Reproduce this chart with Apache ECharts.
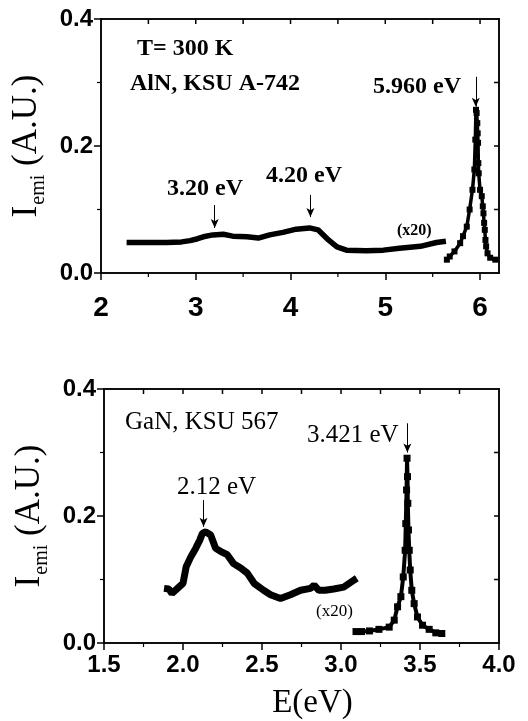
<!DOCTYPE html>
<html><head><meta charset="utf-8">
<script src="https://cdn.jsdelivr.net/npm/echarts@6/dist/echarts.min.js"></script>
<style>html,body{margin:0;padding:0;background:#fff}#c{width:528px;height:721px}</style>
</head><body><div id="c"></div>
<script>
// ---------- data ----------
const alnBroadE = [2.27, 2.45, 2.69, 2.85, 2.94, 3.02, 3.08, 3.18, 3.29, 3.39, 3.54, 3.66, 3.78, 3.92, 4.06, 4.20, 4.29, 4.40, 4.49, 4.59, 4.80, 4.98, 5.15, 5.37, 5.54, 5.64];
const alnBroadI = [0.048, 0.048, 0.048, 0.049, 0.051, 0.054, 0.057, 0.060, 0.061, 0.058, 0.057, 0.055, 0.060, 0.064, 0.069, 0.071, 0.068, 0.052, 0.041, 0.036, 0.035, 0.036, 0.039, 0.042, 0.048, 0.050];
const alnPeakE = [5.65, 5.68, 5.73, 5.79, 5.82, 5.86, 5.89, 5.92, 5.94, 5.95, 5.957, 5.964, 5.971, 5.975, 5.979, 5.982, 5.986, 6.000, 6.018, 6.029, 6.036, 6.043, 6.050, 6.057, 6.064, 6.079, 6.107, 6.161];
const alnPeakI = [0.021, 0.026, 0.034, 0.047, 0.058, 0.073, 0.100, 0.131, 0.163, 0.210, 0.257, 0.252, 0.236, 0.220, 0.205, 0.173, 0.157, 0.131, 0.121, 0.105, 0.094, 0.079, 0.068, 0.052, 0.042, 0.031, 0.024, 0.021];
const ganBroadE = [1.88, 1.91, 1.93, 1.965, 2.00, 2.02, 2.05, 2.08, 2.106, 2.123, 2.144, 2.175, 2.207, 2.24, 2.28, 2.32, 2.365, 2.407, 2.45, 2.51, 2.554, 2.617, 2.68, 2.744, 2.807, 2.83, 2.86, 2.90, 2.954, 3.017, 3.07, 3.10];
const ganBroadI = [0.086, 0.085, 0.078, 0.086, 0.094, 0.120, 0.136, 0.149, 0.162, 0.173, 0.175, 0.170, 0.149, 0.144, 0.139, 0.125, 0.118, 0.110, 0.094, 0.083, 0.076, 0.070, 0.076, 0.083, 0.086, 0.091, 0.083, 0.083, 0.085, 0.088, 0.097, 0.102];
const ganPeakE = [3.095, 3.13, 3.18, 3.24, 3.305, 3.337, 3.358, 3.379, 3.394, 3.406, 3.41, 3.415, 3.418, 3.421, 3.423, 3.427, 3.432, 3.438, 3.448, 3.463, 3.484, 3.516, 3.558, 3.60, 3.638];
const ganPeakI = [0.018, 0.018, 0.019, 0.0215, 0.025, 0.036, 0.057, 0.073, 0.104, 0.146, 0.188, 0.241, 0.291, 0.262, 0.220, 0.178, 0.146, 0.115, 0.083, 0.062, 0.041, 0.028, 0.0215, 0.016, 0.015];

// tick labels / tick positions
const topXTicks = [2, 3, 4, 5, 6];
const botXTicks = [1.5, 2.0, 2.5, 3.0, 3.5, 4.0];
const yTicks = [0.0, 0.2, 0.4];
const topXMinor = [2.5, 3.5, 4.5, 5.5];
const botXMinor = [1.75, 2.25, 2.75, 3.25, 3.75];
const yMinor = [0.1, 0.3];
const topXMirror = [2.5, 3, 3.5, 4, 4.5, 5, 5.5, 6];
const botXMirror = [1.75, 2.0, 2.25, 2.5, 2.75, 3.0, 3.25, 3.5, 3.75];
const yMirror = [0.1, 0.2, 0.3];

// annotation arrows: [x, yFrom, yTo]
const alnArrows = [[3.20, 0.107, 0.071], [4.21, 0.123, 0.088], [5.955, 0.309, 0.262]];
const ganArrows = [[2.13, 0.225, 0.183], [3.42, 0.346, 0.300]];

// ---------- helpers ----------
const serif = '"Liberation Serif","Times New Roman",serif';
const sans = '"Liberation Sans",Arial,sans-serif';
const K = '#000';
const pair = (xs, ys) => xs.map((x, i) => [x, ys[i]]);
const lineOpt = () => ({ show: true, onZero: false, lineStyle: { color: K, width: 1.5 } });
const GRIDS = [
  { left: 101, top: 19, width: 398, height: 254, xr: [2, 6.2] },
  { left: 104, top: 389, width: 395, height: 254, xr: [1.5, 4.0] }
];

function xAxis(grid, min, max, interval, ticks, fs, margin, fmt, name) {
  return { gridIndex: grid, type: 'value', min, max, interval, position: 'bottom',
    axisLine: lineOpt(), splitLine: { show: false },
    axisTick: { show: true, inside: false, length: 7, customValues: ticks.slice(), lineStyle: { color: K, width: 1.5 } },
    axisLabel: { show: true, customValues: ticks.slice(), margin, color: K, fontFamily: sans, fontWeight: 'bold', fontSize: fs, formatter: fmt },
    name: name || '', nameLocation: 'middle', nameGap: 44,
    nameTextStyle: { fontFamily: serif, fontSize: 33, color: K, padding: [0, 0, 0, 22] } };
}
function yAxis(grid, gap) {
  return { gridIndex: grid, type: 'value', min: 0, max: 0.4, interval: 0.2, position: 'left',
    axisLine: lineOpt(), splitLine: { show: false },
    axisTick: { show: true, inside: false, length: 7, lineStyle: { color: K, width: 1.5 } },
    axisLabel: { show: true, margin: 8, color: K, fontFamily: sans, fontWeight: 'bold', fontSize: 24, formatter: v => v.toFixed(1) },
    name: '{m|I}{s|emi}{m| (A.U.)}', nameLocation: 'middle', nameRotate: 90, nameGap: gap,
    nameTextStyle: { color: K, rich: {
      m: { fontFamily: serif, fontSize: 35, color: K },
      s: { fontFamily: serif, fontSize: 20, color: K, verticalAlign: 'top', padding: [24, 0, 0, 1] } } } };
}
function arrows(list) {
  return {
    silent: true, symbol: ['none', 'arrow'], symbolSize: [6, 9],
    label: { show: false }, lineStyle: { color: K, width: 1, type: 'solid' },
    data: list.map(a => [{ coord: [a[0], a[1]] }, { coord: [a[0], a[2]] }])
  };
}
function txt(x, y, s, fs, bold) {
  return { type: 'text', x, y, silent: true, z: 100,
    style: { text: s, fill: K, font: (bold ? 'bold ' : '') + fs + 'px ' + serif, textAlign: 'left', textVerticalAlign: 'middle' } };
}
// thin filled box positioned like the text elements (element-level x / y)
function box(x, y, w, h) {
  return { type: 'rect', silent: true, z: 100, x, y, shape: { x: 0, y: 0, width: w, height: h }, style: { fill: K, stroke: K, lineWidth: 0 } };
}

const chart = echarts.init(document.getElementById('c'));
chart.setOption({
  animation: false,
  grid: GRIDS.map(g => ({ left: g.left, top: g.top, width: g.width, height: g.height, show: true, borderColor: K, borderWidth: 1.5 })),
  xAxis: [
    xAxis(0, 2, 6.2, 1, topXTicks, 28, 21, v => String(v)),
    xAxis(1, 1.5, 4.0, 0.5, botXTicks, 24, 10, v => v.toFixed(1), 'E(eV)')
  ],
  yAxis: [yAxis(0, 52), yAxis(1, 50)],
  series: [
    { type: 'line', xAxisIndex: 0, yAxisIndex: 0, data: pair(alnBroadE, alnBroadI), symbol: 'none',
      lineStyle: { color: K, width: 5.5 }, itemStyle: { color: K }, markLine: arrows(alnArrows) },
    { type: 'line', xAxisIndex: 0, yAxisIndex: 0, data: pair(alnPeakE, alnPeakI), symbol: 'rect', symbolSize: 6, showAllSymbol: true,
      lineStyle: { color: K, width: 3.5 }, itemStyle: { color: K } },
    { type: 'line', xAxisIndex: 1, yAxisIndex: 1, data: pair(ganBroadE, ganBroadI), symbol: 'none',
      lineStyle: { color: K, width: 7 }, itemStyle: { color: K }, markLine: arrows(ganArrows) },
    { type: 'line', xAxisIndex: 1, yAxisIndex: 1, data: pair(ganPeakE, ganPeakI), symbol: 'rect', symbolSize: 7, showAllSymbol: true,
      lineStyle: { color: K, width: 4 }, itemStyle: { color: K } }
  ]
});

// frame (top/right mirror axes) and minor ticks, positioned through the chart's own scales
const els = [];
function frame(gi, si, yr, topT, rightT, botMinor, leftMinor) {
  const g = GRIDS[gi];
  const toPx = (x, y) => {
    let p = null;
    try { p = chart.convertToPixel({ seriesIndex: si }, [x, y]); } catch (e) { p = null; }
    if (!p || !isFinite(p[0]) || !isFinite(p[1])) {
      p = [g.left + (x - g.xr[0]) / (g.xr[1] - g.xr[0]) * g.width, g.top + (1 - (y - yr[0]) / (yr[1] - yr[0])) * g.height];
    }
    return p;
  };
  const p0 = toPx(g.xr[0], yr[0]), p1 = toPx(g.xr[1], yr[1]);
  const L = p0[0], B = p0[1], R = p1[0], T = p1[1];
  els.push(box(L - 0.75, T - 0.75, R - L + 1.5, 1.5));
  els.push(box(R - 0.75, T - 0.75, 1.5, B - T + 1.5));
  topT.forEach(v => { const x = toPx(v, yr[0])[0]; els.push(box(x - 0.75, T, 1.5, 5)); });
  rightT.forEach(v => { const y = toPx(g.xr[0], v)[1]; els.push(box(R - 5, y - 0.75, 5, 1.5)); });
  botMinor.forEach(v => { const x = toPx(v, yr[0])[0]; els.push(box(x - 0.6, B, 1.2, 4)); });
  leftMinor.forEach(v => { const y = toPx(g.xr[0], v)[1]; els.push(box(L - 4, y - 0.6, 4, 1.2)); });
}
frame(0, 0, [0, 0.4], topXMirror, yMirror, topXMinor, yMinor);
frame(1, 2, [0, 0.4], botXMirror, yMirror, botXMinor, yMinor);

chart.setOption({
  graphic: els.concat([
    txt(137, 49, 'T= 300 K', 24, true),
    txt(130, 84, 'AlN, KSU A-742', 24, true),
    txt(373, 87, '5.960 eV', 24, true),
    txt(167, 189, '3.20 eV', 24, true),
    txt(266, 176, '4.20 eV', 24, true),
    txt(397, 231, '(x20)', 16, true),
    txt(125, 422, 'GaN, KSU 567', 25, false),
    txt(307, 435, '3.421 eV', 25, false),
    txt(177, 487, '2.12 eV', 25, false),
    txt(316, 612, '(x20)', 17, false)
  ])
});
</script></body></html>
